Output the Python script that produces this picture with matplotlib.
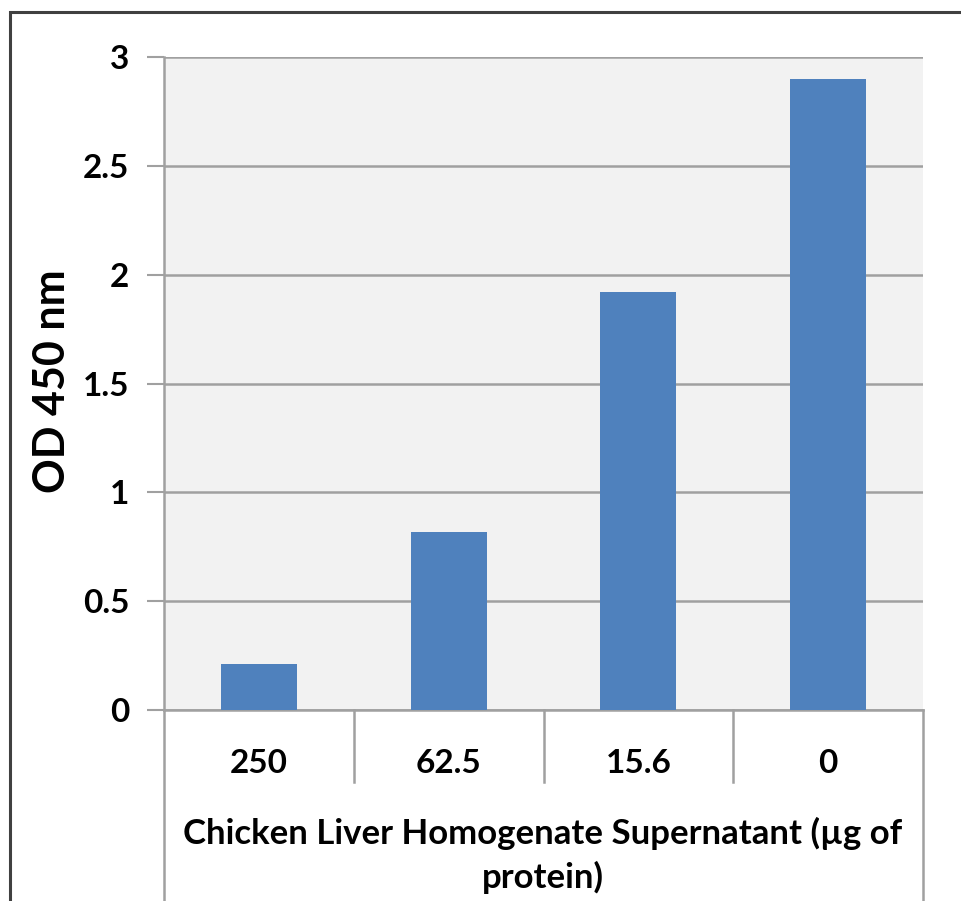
import matplotlib.pyplot as plt
from matplotlib.lines import Line2D
from matplotlib.patches import Rectangle

categories = ['250', '62.5', '15.6', '0']
od450 = [0.21, 0.82, 1.92, 2.90]
yticks = [0, 0.5, 1, 1.5, 2, 2.5, 3]
ytick_labels = ['0', '0.5', '1', '1.5', '2', '2.5', '3']

plt.rcParams['font.family'] = ['Lato', 'DejaVu Sans']
plt.rcParams['font.weight'] = 'bold'

fig = plt.figure(figsize=(9.61, 9.01), dpi=100)
ax = fig.add_axes([164 / 961, 1 - 710 / 901, (923 - 164) / 961, (710 - 57) / 901])
ax.set_facecolor('#F2F2F2')

x = list(range(len(categories)))
ax.bar(x, od450, width=0.4, color='#4F81BD', zorder=3)
ax.set_xlim(-0.5, len(categories) - 0.5)
ax.set_ylim(0, 3)

ax.set_yticks(yticks)
ax.set_yticklabels(ytick_labels, fontsize=24, fontweight='bold')
ax.tick_params(axis='y', length=12, width=1.5, color='#A0A0A0', pad=13)
ax.yaxis.grid(True, color='#A0A0A0', linewidth=1.8, zorder=1)
ax.set_axisbelow(True)

ax.set_xticks(x)
ax.set_xticklabels(categories, fontsize=24, fontweight='bold')
ax.tick_params(axis='x', length=0, pad=28)

for side in ['top', 'right']:
    ax.spines[side].set_visible(False)
ax.spines['left'].set_color('#A0A0A0')
ax.spines['left'].set_linewidth(1.8)
ax.spines['bottom'].set_color('#A0A0A0')
ax.spines['bottom'].set_linewidth(1.8)

fig.text(52 / 961, 1 - 381 / 901, 'OD 450 nm', rotation=90, ha='center', va='center',
         fontsize=31, fontweight='bold')

# category separators below the axis
trans = ax.get_xaxis_transform()
for xs in [0.5, 1.5, 2.5]:
    ax.add_line(Line2D([xs, xs], [0, -72 / 653], transform=trans, color='#A0A0A0',
                       linewidth=1.8, clip_on=False))
# left and right lines down to the bottom of the picture
for xs in [-0.5, len(categories) - 0.5]:
    ax.add_line(Line2D([xs, xs], [0, -0.35], transform=trans, color='#A0A0A0',
                       linewidth=1.8, clip_on=False))

fig.text(543 / 961, 1 - 855 / 901, 'Chicken Liver Homogenate Supernatant (\u00b5g of\nprotein)',
         ha='center', va='center', fontsize=25, fontweight='bold', linespacing=1.4)

# outer frame of the screenshot
fig.patches.append(Rectangle((10 / 961, -0.1), 1.2, 1 - 12 / 901 + 0.1, transform=fig.transFigure,
                             fill=False, edgecolor='#404040', linewidth=2.2))

fig.savefig('out.png', dpi=100)
